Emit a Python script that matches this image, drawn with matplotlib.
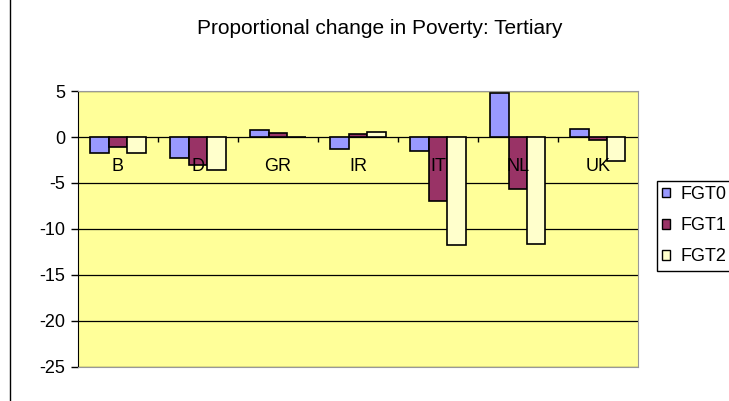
import matplotlib.pyplot as plt
import numpy as np
from matplotlib.patches import Patch, Rectangle
from matplotlib.lines import Line2D

plt.rcParams['font.family'] = ['Liberation Sans', 'DejaVu Sans']

countries = ["B", "D", "GR", "IR", "IT", "NL", "UK"]
fgt0 = [-1.75, -2.3, 0.72, -1.27, -1.57, 4.8, 0.9]
fgt1 = [-1.05, -3.0, 0.4, 0.35, -6.95, -5.65, -0.3]
fgt2 = [-1.75, -3.55, 0.05, 0.58, -11.75, -11.6, -2.65]
series_names = ["FGT0", "FGT1", "FGT2"]
colors = ["#9999FF", "#993366", "#FFFFCC"]
yticks = [5, 0, -5, -10, -15, -20, -25]

W, H = 729, 401
fig = plt.figure(figsize=(W / 100, H / 100), dpi=100)
ax = fig.add_axes([0.107, 0.085, 0.768, 0.688])
ax.set_facecolor("#FFFF99")

x = np.arange(len(countries))
w = 0.23
for k, (vals, c) in enumerate(zip([fgt0, fgt1, fgt2], colors)):
    ax.bar(x + (k - 1) * w, vals, w, color=c, edgecolor="black", linewidth=1.2,
           zorder=3)

ax.set_xlim(-0.5, len(countries) - 0.5)
ax.set_ylim(-25, 5)
ax.set_yticks(yticks)
ax.set_yticklabels([str(v) for v in yticks], fontsize=13)
ax.tick_params(axis="y", direction="out", length=5, width=1, pad=4)
ax.set_xticks([])
for y in yticks:
    ax.axhline(y, color="black", linewidth=0.9, zorder=1)

for side in ["top", "right", "bottom"]:
    ax.spines[side].set_color("#999999")
ax.spines["left"].set_color("black")

# category ticks on the zero line, labels just below it
ax.vlines(np.arange(0.5, len(countries) - 0.5, 1.0), -0.55, 0,
          color="black", linewidth=1, zorder=4)
for i, name in enumerate(countries):
    ax.annotate(name, xy=(i, 0), xytext=(0, -21), textcoords="offset points",
                ha="center", va="center", fontsize=13, zorder=5)

fig.text(0.521, 0.928, "Proportional change in Poverty: Tertiary",
         ha="center", va="center", fontsize=15)

# legend: frameless entries inside a hand-drawn box (box runs off the right edge)
fig.add_artist(Rectangle((657 / W, 1 - 271 / H), 90 / W, 90 / H,
                         transform=fig.transFigure, facecolor="white",
                         edgecolor="black", linewidth=1))
handles = [Patch(facecolor=c, edgecolor="black", linewidth=1) for c in colors]
leg = fig.legend(handles, series_names, loc="upper left",
                 bbox_to_anchor=(662 / W, 1 - 186 / H),
                 fontsize=13, frameon=False,
                 handlelength=0.45, handleheight=0.45, handletextpad=0.6,
                 labelspacing=0.78, borderpad=0, borderaxespad=0)

fig.add_artist(Line2D([10 / W, 10 / W], [0, 1], color="black",
                      linewidth=1, transform=fig.transFigure))

fig.savefig("out.png", dpi=100, facecolor="white")
